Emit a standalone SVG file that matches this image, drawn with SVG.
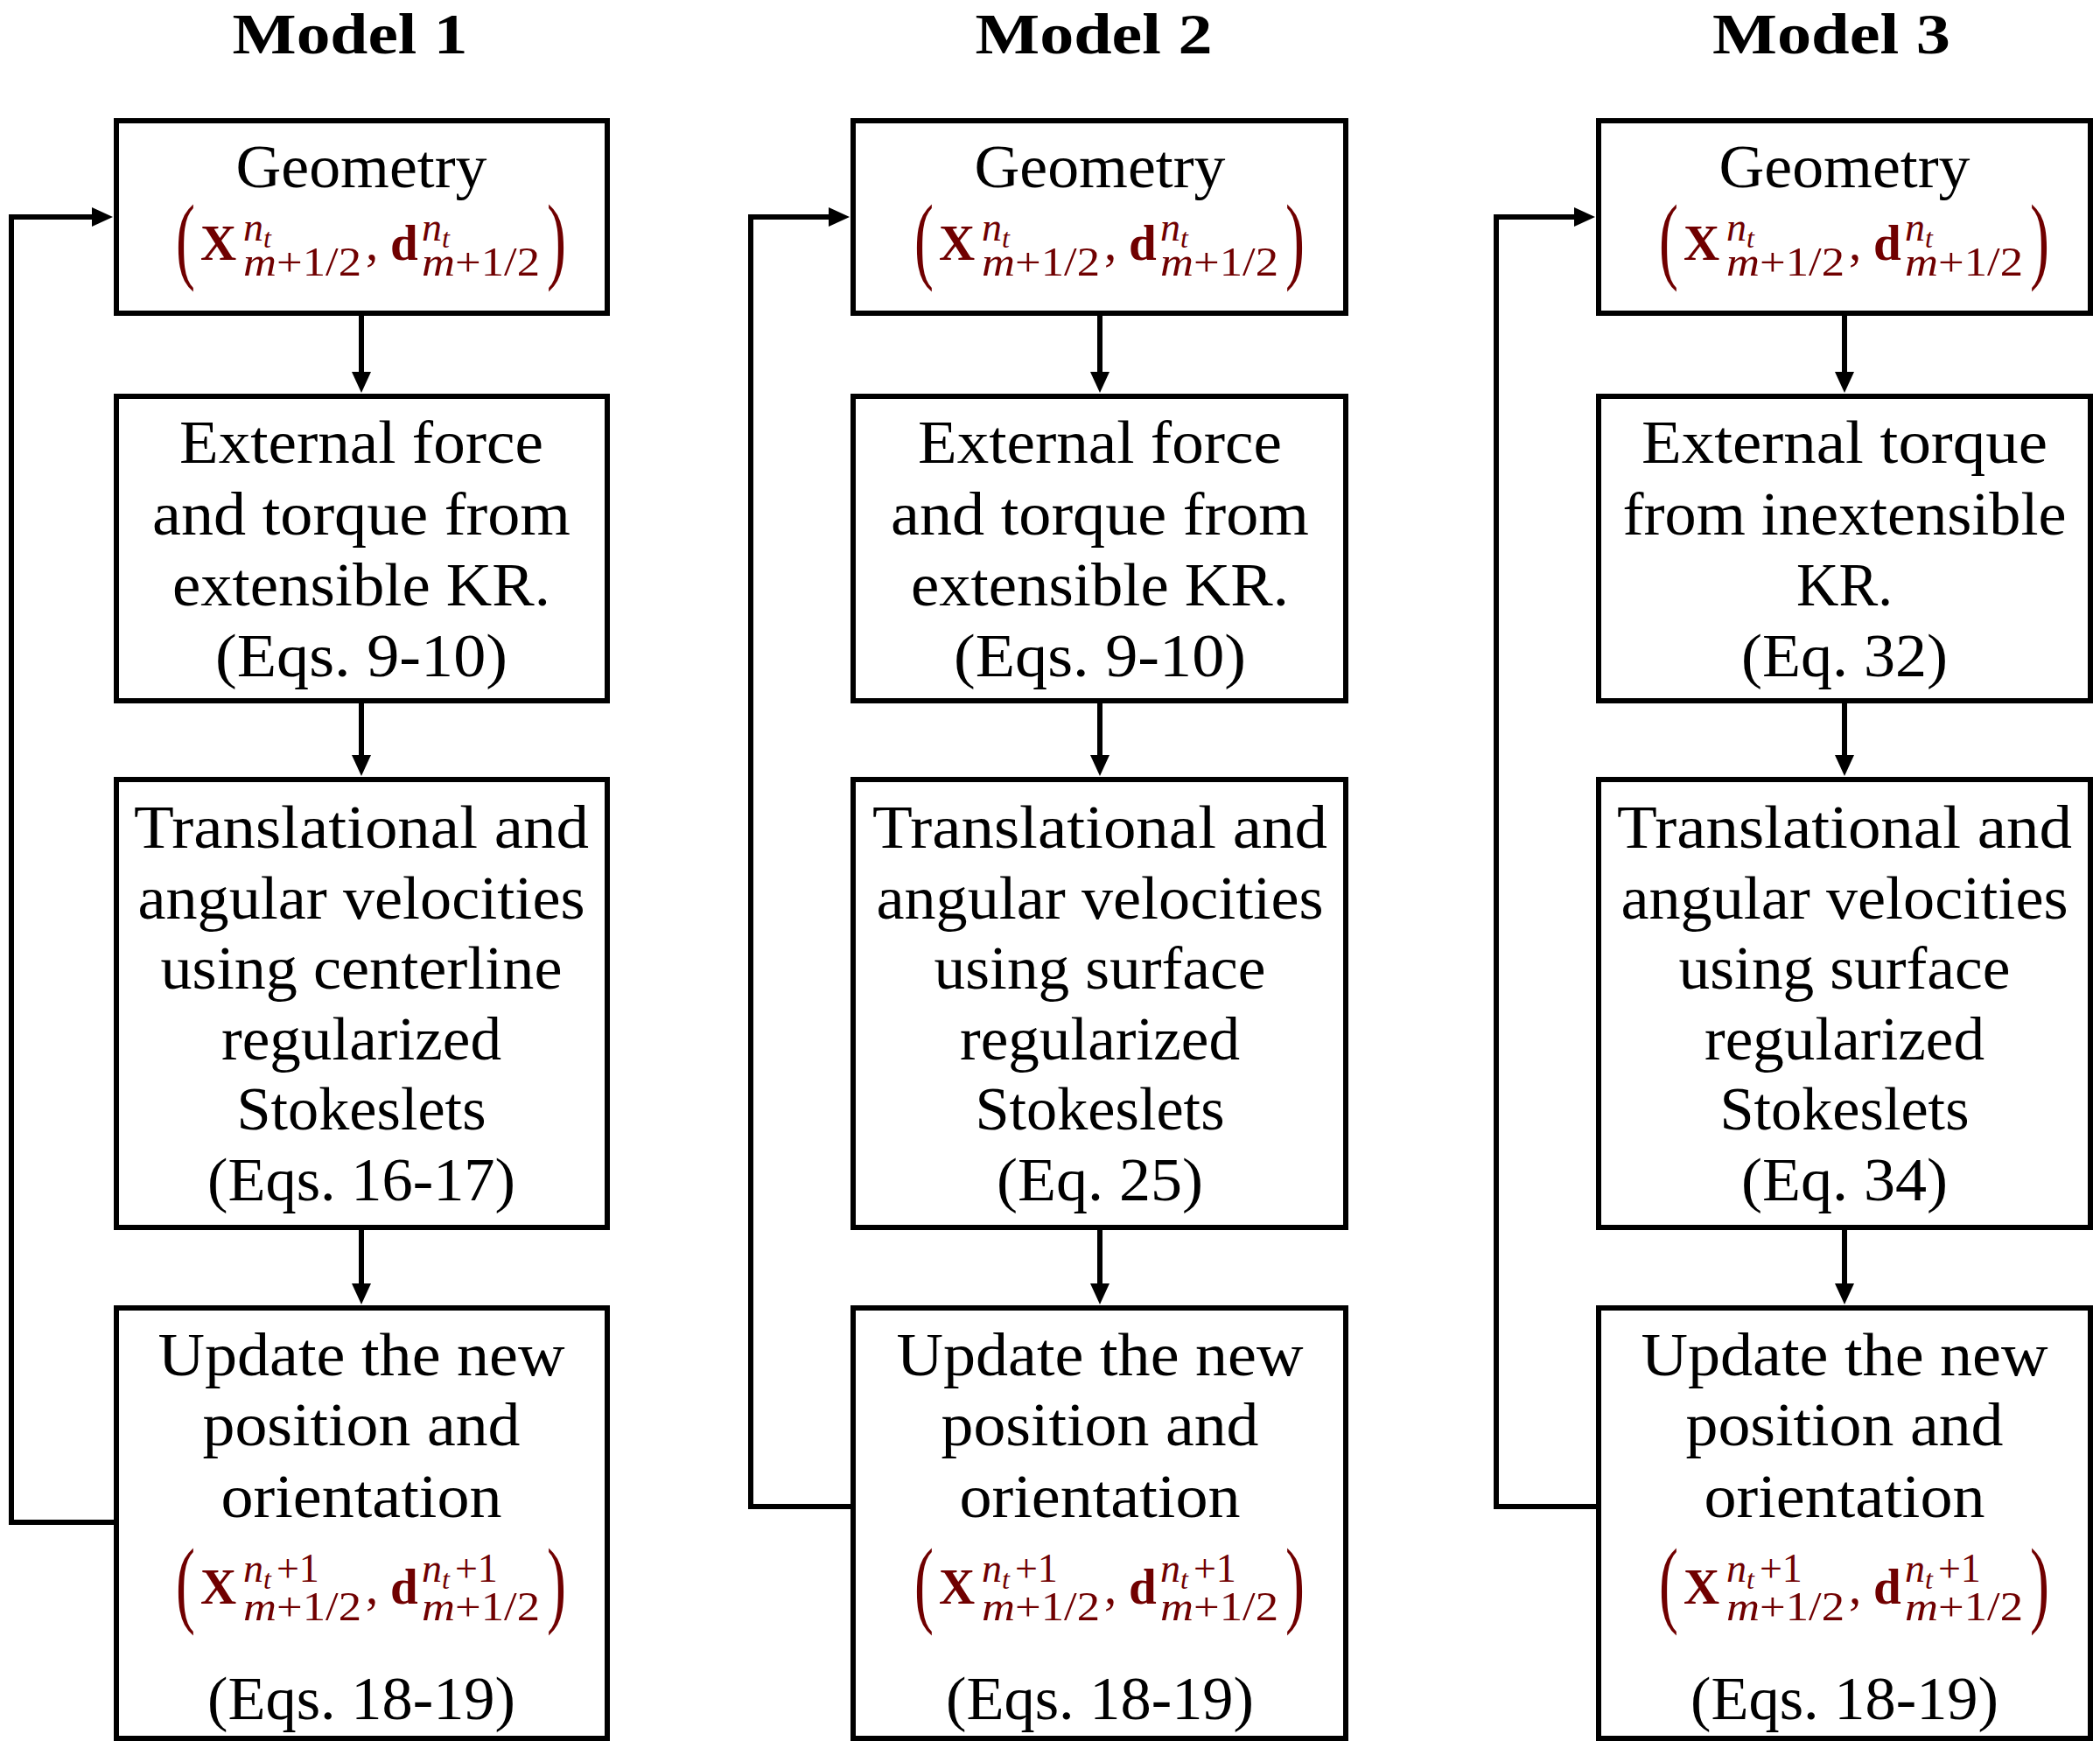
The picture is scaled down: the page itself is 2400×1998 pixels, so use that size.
<svg xmlns="http://www.w3.org/2000/svg" width="2400" height="1998" viewBox="0 0 2400 1998">
<style>
.bg{fill:#fff}
.box{fill:#fff;stroke:#000;stroke-width:6}
.t{font-family:"Liberation Serif","Times New Roman",serif;font-size:70px;text-anchor:middle;fill:#000}
.h{font-family:"Liberation Serif","Times New Roman",serif;font-size:66px;font-weight:bold;text-anchor:middle;fill:#000}
.m{font-family:"Liberation Serif","Times New Roman",serif;fill:#700000}
.b{font-size:57px;font-weight:bold}
.c{font-size:57px}
.s{font-size:46px}
.i{font-style:italic}
.ss{font-size:32px;font-style:italic}
.p{font-size:110px}
.conn{fill:none;stroke:#000;stroke-width:6}
</style>
<defs>
<marker id="ah" markerUnits="userSpaceOnUse" markerWidth="24" markerHeight="22" refX="12" refY="11" orient="auto">
<path d="M0,0 L24,11 L0,22 z" fill="#000"/>
</marker>
</defs>
<rect class="bg" x="0" y="0" width="2400" height="1998"/>

<g id="titles">
<text class="h" x="400" y="61" textLength="269" lengthAdjust="spacingAndGlyphs">Model 1</text>
<text class="h" x="1250" y="61" textLength="271" lengthAdjust="spacingAndGlyphs">Model 2</text>
<text class="h" x="2093" y="61" textLength="272" lengthAdjust="spacingAndGlyphs">Model 3</text>
</g>

<g id="connectors">
<line class="conn" x1="413" y1="361" x2="413" y2="437" marker-end="url(#ah)"/>
<line class="conn" x1="413" y1="804" x2="413" y2="875" marker-end="url(#ah)"/>
<line class="conn" x1="413" y1="1406" x2="413" y2="1479" marker-end="url(#ah)"/>
<polyline class="conn" points="130,1740 13,1740 13,248 117,248" marker-end="url(#ah)"/>

<line class="conn" x1="1257" y1="361" x2="1257" y2="437" marker-end="url(#ah)"/>
<line class="conn" x1="1257" y1="804" x2="1257" y2="875" marker-end="url(#ah)"/>
<line class="conn" x1="1257" y1="1406" x2="1257" y2="1479" marker-end="url(#ah)"/>
<polyline class="conn" points="972,1722 858,1722 858,248 959,248" marker-end="url(#ah)"/>

<line class="conn" x1="2108" y1="361" x2="2108" y2="437" marker-end="url(#ah)"/>
<line class="conn" x1="2108" y1="804" x2="2108" y2="875" marker-end="url(#ah)"/>
<line class="conn" x1="2108" y1="1406" x2="2108" y2="1479" marker-end="url(#ah)"/>
<polyline class="conn" points="1824,1722 1710,1722 1710,248 1811,248" marker-end="url(#ah)"/>
</g>

<!-- Column 1 -->
<g id="m1-geometry">
<rect class="box" x="133" y="138" width="561" height="220"/>
<text class="t" x="413" y="214" textLength="287" lengthAdjust="spacingAndGlyphs">Geometry</text>
<g transform="translate(413,297)">
<text class="m p" transform="translate(-212,13) scale(0.6,1)">(</text>
<text class="m b" x="-184" y="0">X</text>
<text class="m s i" x="-135" y="-22">n<tspan class="ss" dy="8">t</tspan></text>
<text class="m s" x="-135" y="18" textLength="135" lengthAdjust="spacingAndGlyphs"><tspan class="i">m</tspan>+1/2</text>
<text class="m c" x="5" y="0">,</text>
<text class="m b" x="33" y="0">d</text>
<text class="m s i" x="69" y="-22">n<tspan class="ss" dy="8">t</tspan></text>
<text class="m s" x="69" y="18" textLength="135" lengthAdjust="spacingAndGlyphs"><tspan class="i">m</tspan>+1/2</text>
<text class="m p" transform="translate(212,13) scale(0.6,1)">)</text>
</g>
</g>
<g id="m1-force">
<rect class="box" x="133" y="453" width="561" height="348"/>
<text class="t" x="413" y="529" textLength="416" lengthAdjust="spacingAndGlyphs">External force</text>
<text class="t" x="413" y="611" textLength="478" lengthAdjust="spacingAndGlyphs">and torque from</text>
<text class="t" x="413" y="692" textLength="432" lengthAdjust="spacingAndGlyphs">extensible KR.</text>
<text class="t" x="413" y="773" textLength="334" lengthAdjust="spacingAndGlyphs">(Eqs. 9-10)</text>
</g>
<g id="m1-velocity">
<rect class="box" x="133" y="891" width="561" height="512"/>
<text class="t" x="413" y="969" textLength="520" lengthAdjust="spacingAndGlyphs">Translational and</text>
<text class="t" x="413" y="1050" textLength="511" lengthAdjust="spacingAndGlyphs">angular velocities</text>
<text class="t" x="413" y="1130" textLength="459" lengthAdjust="spacingAndGlyphs">using centerline</text>
<text class="t" x="413" y="1211" textLength="320" lengthAdjust="spacingAndGlyphs">regularized</text>
<text class="t" x="413" y="1291" textLength="285" lengthAdjust="spacingAndGlyphs">Stokeslets</text>
<text class="t" x="413" y="1372" textLength="352" lengthAdjust="spacingAndGlyphs">(Eqs. 16-17)</text>
</g>
<g id="m1-update">
<rect class="box" x="133" y="1495" width="561" height="492"/>
<text class="t" x="413" y="1572" textLength="465" lengthAdjust="spacingAndGlyphs">Update the new</text>
<text class="t" x="413" y="1652" textLength="363" lengthAdjust="spacingAndGlyphs">position and</text>
<text class="t" x="413" y="1734" textLength="321" lengthAdjust="spacingAndGlyphs">orientation</text>
<g transform="translate(413,1833)">
<text class="m p" transform="translate(-212,13) scale(0.6,1)">(</text>
<text class="m b" x="-184" y="0">X</text>
<text class="m s i" x="-135" y="-25">n<tspan class="ss" dy="8">t</tspan><tspan style="font-style:normal" font-size="46" dy="-8" dx="6">+1</tspan></text>
<text class="m s" x="-135" y="19" textLength="135" lengthAdjust="spacingAndGlyphs"><tspan class="i">m</tspan>+1/2</text>
<text class="m c" x="5" y="0">,</text>
<text class="m b" x="33" y="0">d</text>
<text class="m s i" x="69" y="-25">n<tspan class="ss" dy="8">t</tspan><tspan style="font-style:normal" font-size="46" dy="-8" dx="6">+1</tspan></text>
<text class="m s" x="69" y="19" textLength="135" lengthAdjust="spacingAndGlyphs"><tspan class="i">m</tspan>+1/2</text>
<text class="m p" transform="translate(212,13) scale(0.6,1)">)</text>
</g>
<text class="t" x="413" y="1965" textLength="352" lengthAdjust="spacingAndGlyphs">(Eqs. 18-19)</text>
</g>

<!-- Column 2 -->
<g id="m2-geometry">
<rect class="box" x="975" y="138" width="563" height="220"/>
<text class="t" x="1257" y="214" textLength="287" lengthAdjust="spacingAndGlyphs">Geometry</text>
<g transform="translate(1257,297)">
<text class="m p" transform="translate(-212,13) scale(0.6,1)">(</text>
<text class="m b" x="-184" y="0">X</text>
<text class="m s i" x="-135" y="-22">n<tspan class="ss" dy="8">t</tspan></text>
<text class="m s" x="-135" y="18" textLength="135" lengthAdjust="spacingAndGlyphs"><tspan class="i">m</tspan>+1/2</text>
<text class="m c" x="5" y="0">,</text>
<text class="m b" x="33" y="0">d</text>
<text class="m s i" x="69" y="-22">n<tspan class="ss" dy="8">t</tspan></text>
<text class="m s" x="69" y="18" textLength="135" lengthAdjust="spacingAndGlyphs"><tspan class="i">m</tspan>+1/2</text>
<text class="m p" transform="translate(212,13) scale(0.6,1)">)</text>
</g>
</g>
<g id="m2-force">
<rect class="box" x="975" y="453" width="563" height="348"/>
<text class="t" x="1257" y="529" textLength="416" lengthAdjust="spacingAndGlyphs">External force</text>
<text class="t" x="1257" y="611" textLength="478" lengthAdjust="spacingAndGlyphs">and torque from</text>
<text class="t" x="1257" y="692" textLength="432" lengthAdjust="spacingAndGlyphs">extensible KR.</text>
<text class="t" x="1257" y="773" textLength="334" lengthAdjust="spacingAndGlyphs">(Eqs. 9-10)</text>
</g>
<g id="m2-velocity">
<rect class="box" x="975" y="891" width="563" height="512"/>
<text class="t" x="1257" y="969" textLength="520" lengthAdjust="spacingAndGlyphs">Translational and</text>
<text class="t" x="1257" y="1050" textLength="511" lengthAdjust="spacingAndGlyphs">angular velocities</text>
<text class="t" x="1257" y="1130" textLength="379" lengthAdjust="spacingAndGlyphs">using surface</text>
<text class="t" x="1257" y="1211" textLength="320" lengthAdjust="spacingAndGlyphs">regularized</text>
<text class="t" x="1257" y="1291" textLength="285" lengthAdjust="spacingAndGlyphs">Stokeslets</text>
<text class="t" x="1257" y="1372" textLength="236" lengthAdjust="spacingAndGlyphs">(Eq. 25)</text>
</g>
<g id="m2-update">
<rect class="box" x="975" y="1495" width="563" height="492"/>
<text class="t" x="1257" y="1572" textLength="465" lengthAdjust="spacingAndGlyphs">Update the new</text>
<text class="t" x="1257" y="1652" textLength="363" lengthAdjust="spacingAndGlyphs">position and</text>
<text class="t" x="1257" y="1734" textLength="321" lengthAdjust="spacingAndGlyphs">orientation</text>
<g transform="translate(1257,1833)">
<text class="m p" transform="translate(-212,13) scale(0.6,1)">(</text>
<text class="m b" x="-184" y="0">X</text>
<text class="m s i" x="-135" y="-25">n<tspan class="ss" dy="8">t</tspan><tspan style="font-style:normal" font-size="46" dy="-8" dx="6">+1</tspan></text>
<text class="m s" x="-135" y="19" textLength="135" lengthAdjust="spacingAndGlyphs"><tspan class="i">m</tspan>+1/2</text>
<text class="m c" x="5" y="0">,</text>
<text class="m b" x="33" y="0">d</text>
<text class="m s i" x="69" y="-25">n<tspan class="ss" dy="8">t</tspan><tspan style="font-style:normal" font-size="46" dy="-8" dx="6">+1</tspan></text>
<text class="m s" x="69" y="19" textLength="135" lengthAdjust="spacingAndGlyphs"><tspan class="i">m</tspan>+1/2</text>
<text class="m p" transform="translate(212,13) scale(0.6,1)">)</text>
</g>
<text class="t" x="1257" y="1965" textLength="352" lengthAdjust="spacingAndGlyphs">(Eqs. 18-19)</text>
</g>

<!-- Column 3 -->
<g id="m3-geometry">
<rect class="box" x="1827" y="138" width="562" height="220"/>
<text class="t" x="2108" y="214" textLength="287" lengthAdjust="spacingAndGlyphs">Geometry</text>
<g transform="translate(2108,297)">
<text class="m p" transform="translate(-212,13) scale(0.6,1)">(</text>
<text class="m b" x="-184" y="0">X</text>
<text class="m s i" x="-135" y="-22">n<tspan class="ss" dy="8">t</tspan></text>
<text class="m s" x="-135" y="18" textLength="135" lengthAdjust="spacingAndGlyphs"><tspan class="i">m</tspan>+1/2</text>
<text class="m c" x="5" y="0">,</text>
<text class="m b" x="33" y="0">d</text>
<text class="m s i" x="69" y="-22">n<tspan class="ss" dy="8">t</tspan></text>
<text class="m s" x="69" y="18" textLength="135" lengthAdjust="spacingAndGlyphs"><tspan class="i">m</tspan>+1/2</text>
<text class="m p" transform="translate(212,13) scale(0.6,1)">)</text>
</g>
</g>
<g id="m3-torque">
<rect class="box" x="1827" y="453" width="562" height="348"/>
<text class="t" x="2108" y="529" textLength="464" lengthAdjust="spacingAndGlyphs">External torque</text>
<text class="t" x="2108" y="611" textLength="507" lengthAdjust="spacingAndGlyphs">from inextensible</text>
<text class="t" x="2108" y="692" textLength="110" lengthAdjust="spacingAndGlyphs">KR.</text>
<text class="t" x="2108" y="773" textLength="236" lengthAdjust="spacingAndGlyphs">(Eq. 32)</text>
</g>
<g id="m3-velocity">
<rect class="box" x="1827" y="891" width="562" height="512"/>
<text class="t" x="2108" y="969" textLength="520" lengthAdjust="spacingAndGlyphs">Translational and</text>
<text class="t" x="2108" y="1050" textLength="511" lengthAdjust="spacingAndGlyphs">angular velocities</text>
<text class="t" x="2108" y="1130" textLength="379" lengthAdjust="spacingAndGlyphs">using surface</text>
<text class="t" x="2108" y="1211" textLength="320" lengthAdjust="spacingAndGlyphs">regularized</text>
<text class="t" x="2108" y="1291" textLength="285" lengthAdjust="spacingAndGlyphs">Stokeslets</text>
<text class="t" x="2108" y="1372" textLength="236" lengthAdjust="spacingAndGlyphs">(Eq. 34)</text>
</g>
<g id="m3-update">
<rect class="box" x="1827" y="1495" width="562" height="492"/>
<text class="t" x="2108" y="1572" textLength="465" lengthAdjust="spacingAndGlyphs">Update the new</text>
<text class="t" x="2108" y="1652" textLength="363" lengthAdjust="spacingAndGlyphs">position and</text>
<text class="t" x="2108" y="1734" textLength="321" lengthAdjust="spacingAndGlyphs">orientation</text>
<g transform="translate(2108,1833)">
<text class="m p" transform="translate(-212,13) scale(0.6,1)">(</text>
<text class="m b" x="-184" y="0">X</text>
<text class="m s i" x="-135" y="-25">n<tspan class="ss" dy="8">t</tspan><tspan style="font-style:normal" font-size="46" dy="-8" dx="6">+1</tspan></text>
<text class="m s" x="-135" y="19" textLength="135" lengthAdjust="spacingAndGlyphs"><tspan class="i">m</tspan>+1/2</text>
<text class="m c" x="5" y="0">,</text>
<text class="m b" x="33" y="0">d</text>
<text class="m s i" x="69" y="-25">n<tspan class="ss" dy="8">t</tspan><tspan style="font-style:normal" font-size="46" dy="-8" dx="6">+1</tspan></text>
<text class="m s" x="69" y="19" textLength="135" lengthAdjust="spacingAndGlyphs"><tspan class="i">m</tspan>+1/2</text>
<text class="m p" transform="translate(212,13) scale(0.6,1)">)</text>
</g>
<text class="t" x="2108" y="1965" textLength="352" lengthAdjust="spacingAndGlyphs">(Eqs. 18-19)</text>
</g>
</svg>
